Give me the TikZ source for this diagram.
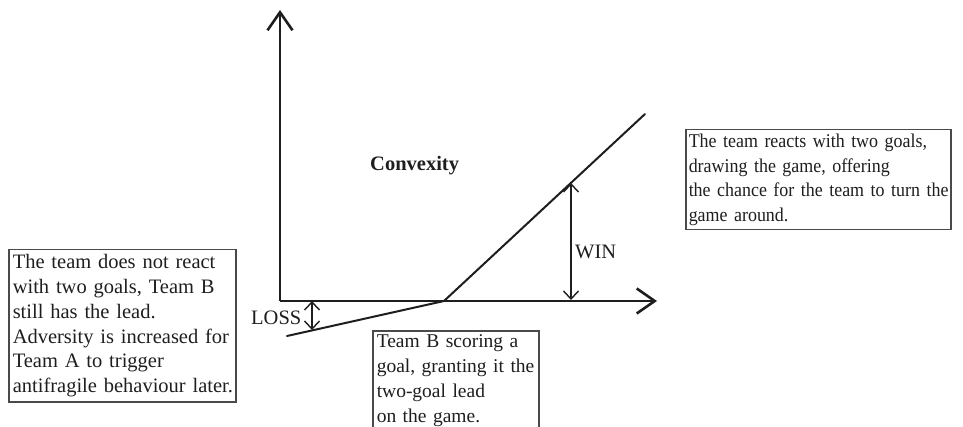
\documentclass[tikz,border=0pt]{standalone}
\usepackage{fontspec}
\setmainfont{Liberation Serif}
\newfontfamily\narrowserif[FakeStretch=0.92]{Liberation Serif}
\usetikzlibrary{arrows.meta}
\definecolor{ink}{HTML}{1E1E1E}
\definecolor{boxline}{HTML}{4A4A4A}
\tikzset{
  axis/.style={draw=ink, line width=1.5pt, -{Straight Barb[length=18pt, width=25pt, line width=2.6pt]}},
  curve/.style={draw=ink, line width=2pt},
  gap/.style={draw=ink, line width=1.2pt, {Straight Barb[length=8pt, width=15pt, line width=1.4pt]}-{Straight Barb[length=8pt, width=15pt, line width=1.4pt]}},
  note/.style={draw=boxline, line width=1.5pt, text=ink, anchor=north west, align=left, inner xsep=4pt, inner ysep=4pt, font=\fontsize{20.5}{24.8}\selectfont},
  lbl/.style={text=ink, inner sep=0pt, font=\fontsize{20.5}{24.8}\selectfont}
}
\begin{document}
\begin{tikzpicture}[x=1pt, y=-1pt]
\useasboundingbox (0,0) rectangle (963,427);
\coordinate (O) at (280,301);
\coordinate (ytip) at (280,10);
\coordinate (xtip) at (657,301);
\coordinate (K) at (444,301);
\coordinate (lowstart) at (287,336);
\coordinate (highend) at (645,114);
\coordinate (W1) at (571,183);
\coordinate (W0) at (571,300);
\coordinate (L0) at (312,301);
\coordinate (L1) at (312,330);

\draw[axis] (O) -- (ytip);
\draw[axis] (O) -- (xtip);
\draw[curve, line cap=round] (lowstart) -- (K) -- (highend);
\draw[gap] (W0) -- (W1);
\draw[gap] (L0) -- (L1);

\node[lbl, anchor=west] (win) at (575,252) {WIN};
\node[lbl, anchor=west] (loss) at (251,318) {LOSS};
\node[lbl, anchor=west, font=\fontsize{20.5}{24.8}\selectfont\bfseries] (conv) at (370,166) {Convexity};

\node[note, text width=259pt, inner xsep=3pt, minimum height=100pt, font=\narrowserif\fontsize{19.5}{24.5}\selectfont] (right) at (685,129)
  {\mbox{The team reacts with two goals,}\\
   \mbox{drawing the game, offering}\\
   \mbox{the chance for the team to turn the}\\
   \mbox{game around.}};

\node[note, text width=219pt, minimum height=152pt] (left) at (8,249)
  {\mbox{The team does not react}\\
   \mbox{with two goals, Team B}\\
   \mbox{still has the lead.}\\
   \mbox{Adversity is increased for}\\
   \mbox{Team A to trigger}\\
   \mbox{antifragile behaviour later.}};

\node[note, text width=158pt, font=\fontsize{19.5}{24.8}\selectfont] (bottom) at (372,330)
  {\mbox{Team B scoring a}\\
   \mbox{goal, granting it the}\\
   \mbox{two-goal lead}\\
   \mbox{on the game.}};
\end{tikzpicture}
\end{document}
